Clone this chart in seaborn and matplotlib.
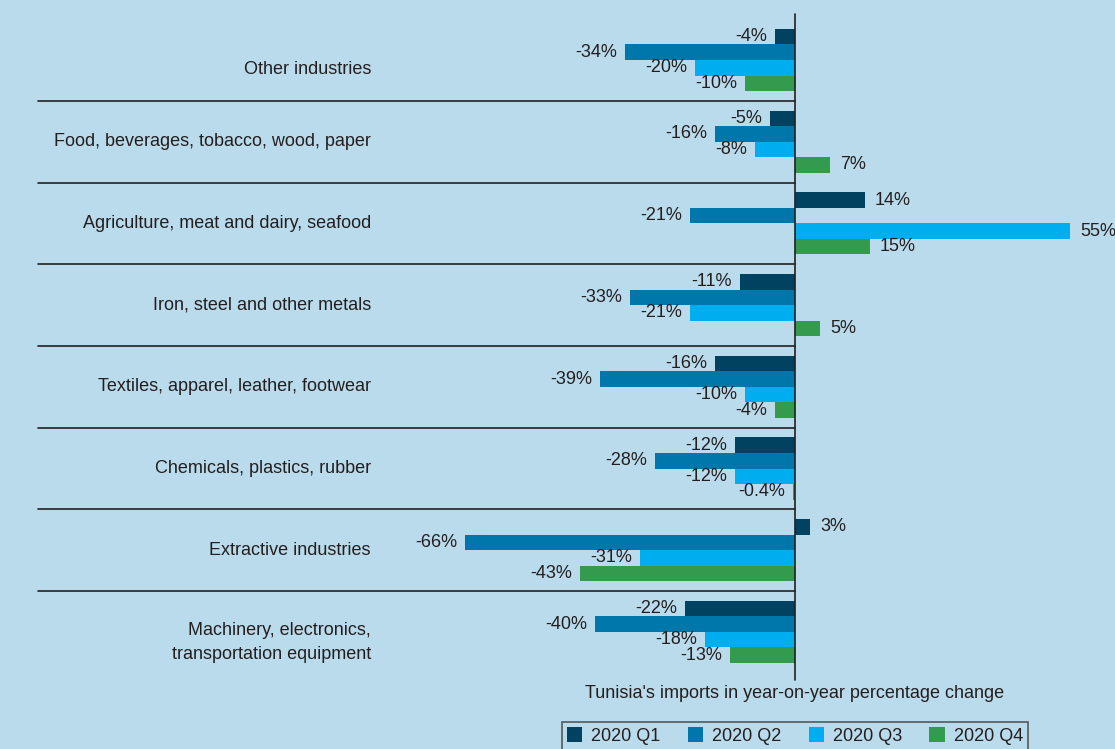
import matplotlib
matplotlib.use("Agg")
import matplotlib.pyplot as plt
import seaborn as sns
import pandas as pd
from matplotlib.patches import Patch

categories = [
    "Other industries",
    "Food, beverages, tobacco, wood, paper",
    "Agriculture, meat and dairy, seafood",
    "Iron, steel and other metals",
    "Textiles, apparel, leather, footwear",
    "Chemicals, plastics, rubber",
    "Extractive industries",
    "Machinery, electronics,\ntransportation equipment",
]
quarters = ["2020 Q1", "2020 Q2", "2020 Q3", "2020 Q4"]
q1 = [-4, -5, 14, -11, -16, -12, 3, -22]
q2 = [-34, -16, -21, -33, -39, -28, -66, -40]
q3 = [-20, -8, 55, -21, -10, -12, -31, -18]
q4 = [-10, 7, 15, 5, -4, -0.4, -43, -13]
value_labels = {
    "2020 Q1": ["-4%", "-5%", "14%", "-11%", "-16%", "-12%", "3%", "-22%"],
    "2020 Q2": ["-34%", "-16%", "-21%", "-33%", "-39%", "-28%", "-66%", "-40%"],
    "2020 Q3": ["-20%", "-8%", "55%", "-21%", "-10%", "-12%", "-31%", "-18%"],
    "2020 Q4": ["-10%", "7%", "15%", "5%", "-4%", "-0.4%", "-43%", "-13%"],
}
colors = ["#00425f", "#0077aa", "#00adee", "#339a4e"]
bg = "#badbeb"
txt = "#231f20"
fs = 13

rows = []
for q, vals in zip(quarters, [q1, q2, q3, q4]):
    for c, v, lab in zip(categories, vals, value_labels[q]):
        rows.append({"category": c, "quarter": q, "value": v, "label": lab})
df = pd.DataFrame(rows)

sns.set_style("white")
plt.rcParams["font.family"] = ["Liberation Sans", "DejaVu Sans"]

W, H = 1115, 749
fig = plt.figure(figsize=(W / 100, H / 100), dpi=100, facecolor=bg)
ax = fig.add_axes([0, 0, 1, 1])
ax.set_facecolor(bg)

sns.barplot(data=df, y="category", x="value", hue="quarter", orient="h",
            order=categories, hue_order=quarters, palette=colors,
            width=0.76, gap=0, dodge=True, ax=ax, legend=False,
            saturation=1, linewidth=0, errorbar=None)

# coordinate system: zero at x=795 px, 5 px per percentage point
px = 5.0
x0 = 795
ax.set_xlim(-x0 / px, (W - x0) / px)
period = 81.7
y_top = 60
ax.set_ylim((H - y_top) / period, -y_top / period)
ax.axis("off")

# value labels
for ci, cont in enumerate(ax.containers):
    q = quarters[ci]
    for bar, lab, v in zip(cont, value_labels[q], [q1, q2, q3, q4][ci]):
        yc = bar.get_y() + bar.get_height() / 2
        if v < 0:
            ax.text(v - 1.6, yc, lab, ha="right", va="center", fontsize=fs, color=txt)
        else:
            ax.text(v + 2.0, yc, lab, ha="left", va="center", fontsize=fs, color=txt)

# zero line
ax.plot([0, 0], [(14 - y_top) / period, (680 - y_top) / period], color=txt, lw=1.2, zorder=5)

# separators
for i in range(len(categories) - 1):
    ax.plot([(38 - x0) / px, 0], [i + 0.5, i + 0.5], color=txt, lw=1.2, zorder=5)

# category labels
label_offsets = [0.12, 0, 0, 0, 0, 0, 0, 0.13]
for i, c in enumerate(categories):
    ax.text((371 - x0) / px, i + label_offsets[i], c, ha="right", va="center",
            fontsize=fs, color=txt, linespacing=1.5)

# x-axis title
fig.text(x0 / W, 1 - 694 / H, "Tunisia's imports in year-on-year percentage change",
         ha="center", va="center", fontsize=fs, color=txt)

# legend
handles = [Patch(facecolor=col, edgecolor="none", label=q) for q, col in zip(quarters, colors)]
leg = fig.legend(handles=handles, loc="upper center", bbox_to_anchor=(x0 / W, 1 - 722 / H),
                 ncol=4, frameon=True, fancybox=False, fontsize=fs,
                 handlelength=0.85, handleheight=0.85, handletextpad=0.5,
                 columnspacing=1.5, borderpad=0.3, borderaxespad=0)
leg.get_frame().set_facecolor(bg)
leg.get_frame().set_edgecolor("#3a3a3a")
leg.get_frame().set_linewidth(1.2)
for t in leg.get_texts():
    t.set_color(txt)

fig.savefig("out.png", dpi=100, facecolor=bg)
